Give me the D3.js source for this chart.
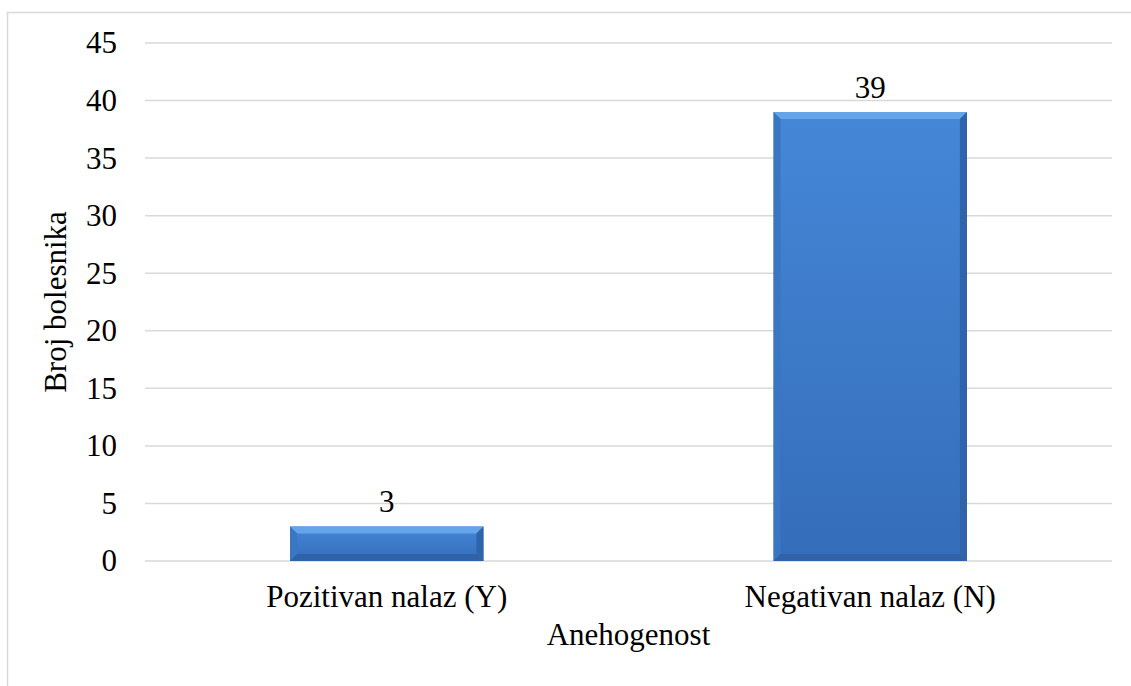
<!DOCTYPE html>
<html>

<head>
  <title>Anehogenost</title>
  <script src="https://cdn.jsdelivr.net/npm/d3@7/dist/d3.min.js"></script>
  <style type="text/css">
    body {
      margin: 0;
      background: #fff;
    }

    text {
      font-family: 'Liberation Serif', 'Times New Roman', serif;
      fill: #000;
    }
  </style>
</head>

<body>
  <div id="chartArea"></div>
  <script type="text/javascript">
    let categories = ['Pozitivan nalaz (Y)', 'Negativan nalaz (N)'];
    let values = [3, 39];
    let yTicks = [0, 5, 10, 15, 20, 25, 30, 35, 40, 45];

    let W = 1131, H = 686;
    let margin = { top: 43, right: 19, bottom: 125, left: 145 };
    let w = W - margin.left - margin.right;
    let h = H - margin.top - margin.bottom;
    let fs = 31;

    let svg = d3.select('#chartArea').append('svg')
      .attr('width', W)
      .attr('height', H);

    // outer chart border
    svg.append('rect')
      .attr('x', 7.5).attr('y', 12.5)
      .attr('width', W).attr('height', H)
      .attr('fill', 'none')
      .attr('stroke', '#d9d9d9')
      .attr('stroke-width', 1.5);

    let defs = svg.append('defs');
    let grad = defs.append('linearGradient')
      .attr('id', 'barGrad')
      .attr('x1', 0).attr('y1', 0).attr('x2', 0).attr('y2', 1);
    grad.append('stop').attr('offset', '0%').attr('stop-color', '#4587d7');
    grad.append('stop').attr('offset', '100%').attr('stop-color', '#346dba');

    let g = svg.append('g')
      .attr('transform', `translate(${margin.left}, ${margin.top})`);

    let xScale = d3.scaleBand()
      .domain(categories)
      .range([0, w])
      .paddingInner(0.6)
      .paddingOuter(0.3);

    let yScale = d3.scaleLinear()
      .domain([0, 45])
      .range([h, 0]);

    // gridlines
    g.selectAll('.grid')
      .data(yTicks)
      .enter()
      .append('line')
      .attr('x1', 0).attr('x2', w)
      .attr('y1', d => yScale(d)).attr('y2', d => yScale(d))
      .attr('stroke', '#d9d9d9')
      .attr('stroke-width', 1.5);

    // y tick labels
    let yAxis = d3.axisLeft(yScale).tickValues(yTicks).tickSize(0).tickPadding(28);
    let ya = g.append('g').call(yAxis);
    ya.select('.domain').remove();
    ya.selectAll('text')
      .attr('font-size', fs)
      .attr('fill', '#000');

    // bars
    let bev = 7;
    let bars = g.selectAll('.bar')
      .data(values)
      .enter()
      .append('g')
      .attr('class', 'bar');

    bars.append('rect')
      .attr('x', (d, i) => xScale(categories[i]))
      .attr('y', d => yScale(d))
      .attr('width', xScale.bandwidth())
      .attr('height', d => h - yScale(d))
      .attr('fill', 'url(#barGrad)');

    function bevel(d, i, side) {
      let x0 = xScale(categories[i]), x1 = x0 + xScale.bandwidth();
      let y0 = yScale(d), y1 = h;
      let b = Math.min(bev, (y1 - y0) / 2);
      let pts;
      if (side === 'top') pts = [[x0, y0], [x1, y0], [x1 - b, y0 + b], [x0 + b, y0 + b]];
      if (side === 'left') pts = [[x0, y0], [x0 + b, y0 + b], [x0 + b, y1 - b], [x0, y1]];
      if (side === 'right') pts = [[x1, y0], [x1 - b, y0 + b], [x1 - b, y1 - b], [x1, y1]];
      if (side === 'bottom') pts = [[x0, y1], [x0 + b, y1 - b], [x1 - b, y1 - b], [x1, y1]];
      return pts.map(p => p.join(',')).join(' ');
    }

    let bevelColors = { top: '#66a4ea', left: '#3b76c2', right: '#2f63aa', bottom: '#2f62a6' };
    Object.keys(bevelColors).forEach(side => {
      bars.append('polygon')
        .attr('points', (d, i) => bevel(d, i, side))
        .attr('fill', bevelColors[side]);
    });

    // value labels
    g.selectAll('.val')
      .data(values)
      .enter()
      .append('text')
      .attr('x', (d, i) => xScale(categories[i]) + xScale.bandwidth() / 2)
      .attr('y', d => yScale(d) - 14)
      .attr('text-anchor', 'middle')
      .attr('font-size', fs)
      .text(d => d);

    // category labels
    g.selectAll('.cat')
      .data(categories)
      .enter()
      .append('text')
      .attr('x', d => xScale(d) + xScale.bandwidth() / 2)
      .attr('y', h + 46)
      .attr('text-anchor', 'middle')
      .attr('font-size', fs)
      .text(d => d);

    // axis titles
    g.append('text')
      .attr('x', w / 2)
      .attr('y', h + 84)
      .attr('text-anchor', 'middle')
      .attr('font-size', fs)
      .text('Anehogenost');

    g.append('text')
      .attr('transform', `translate(${-79}, ${h / 2}) rotate(-90)`)
      .attr('text-anchor', 'middle')
      .attr('font-size', fs)
      .text('Broj bolesnika');
  </script>
</body>

</html>
